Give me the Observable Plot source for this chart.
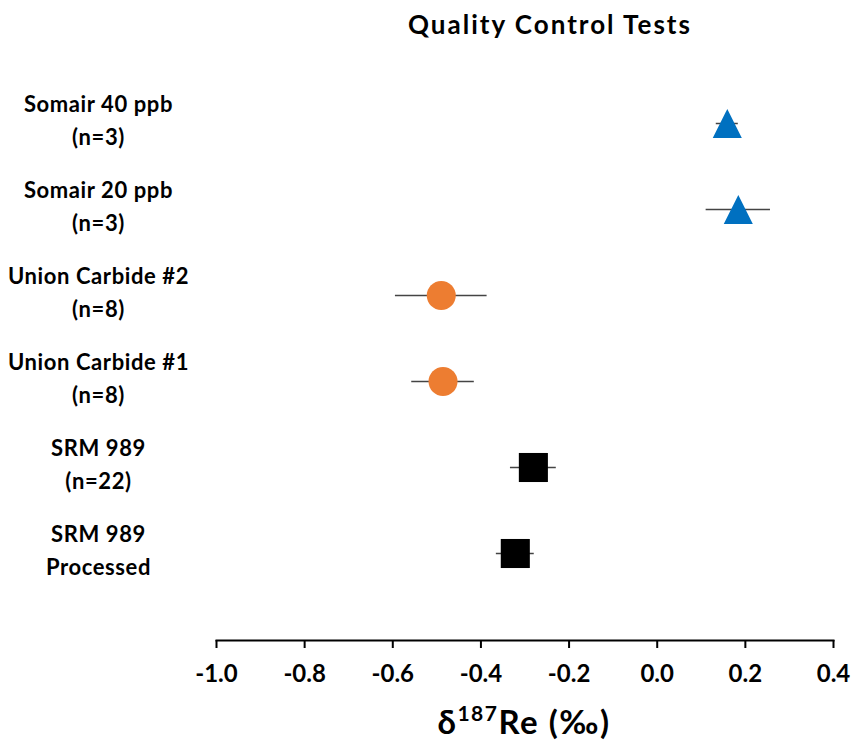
<!DOCTYPE html>
<html>
<head>
<meta charset="utf-8">
<script src="https://cdn.jsdelivr.net/npm/d3@7"></script>
<script src="https://cdn.jsdelivr.net/npm/@observablehq/plot@0.6"></script>
<style>
  html, body { margin: 0; padding: 0; background: #fff; }
</style>
</head>
<body>
<div id="chart"></div>
<script>
const titleText = "Quality Control Tests";
const labels = [
  "Somair 40 ppb\n(n=3)",
  "Somair 20 ppb\n(n=3)",
  "Union Carbide #2\n(n=8)",
  "Union Carbide #1\n(n=8)",
  "SRM 989\n(n=22)",
  "SRM 989\nProcessed"
];
const values = [0.159, 0.184, -0.490, -0.486, -0.281, -0.322];
const errors = [0.025, 0.073, 0.104, 0.071, 0.052, 0.043];
const groups = ["Somair", "Somair", "Union Carbide", "Union Carbide", "SRM 989", "SRM 989"];
const xTicks = [-1.0, -0.8, -0.6, -0.4, -0.2, 0.0, 0.2, 0.4];

const data = labels.map((label, i) => ({
  label, value: values[i], lo: values[i] - errors[i], hi: values[i] + errors[i], group: groups[i]
}));

const FONT = "Lato, 'Open Sans', sans-serif";

const triangleSym = {
  draw(ctx, size) {
    const h = Math.sqrt(size);
    ctx.moveTo(0, -h / 2);
    ctx.lineTo(h / 2, h / 2);
    ctx.lineTo(-h / 2, h / 2);
    ctx.closePath();
  }
};

const plot = Plot.plot({
  width: 856,
  height: 746,
  marginLeft: 216,
  marginRight: 23,
  marginTop: 60,
  marginBottom: 106,
  style: { fontFamily: FONT, background: "#fff", color: "#000" },
  x: { domain: [-1.0, 0.4] },
  y: { type: "point", domain: labels, range: [122, 553], padding: 0, axis: null },
  marks: [
    Plot.frame({ anchor: "bottom", stroke: "#000", strokeWidth: 2, strokeOpacity: 1 }),
    Plot.axisX({
      ticks: xTicks,
      tickFormat: d => d.toFixed(1),
      tickSize: 8,
      tickPadding: 16,
      strokeWidth: 2,
      fontSize: 24,
      fontWeight: "bold",
      fill: "#000",
      label: null
    }),
    Plot.text(data, {
      y: "label",
      text: "label",
      frameAnchor: "left",
      dx: -118,
      dy: -6,
      textAnchor: "middle",
      lineHeight: 1.5,
      fontSize: 22,
      fontWeight: "bold",
      fill: "#000"
    }),
    Plot.ruleY(data, { y: "label", x1: "lo", x2: "hi", stroke: "#444", strokeWidth: 1.5 }),
    Plot.dot(data.filter(d => d.group === "Somair"), {
      x: "value", y: "label", symbol: triangleSym, r: 16.4, fill: "#0070C0", stroke: "none"
    }),
    Plot.dot(data.filter(d => d.group === "Union Carbide"), {
      x: "value", y: "label", symbol: "circle", r: 14.5, fill: "#ED7D31", stroke: "none"
    }),
    Plot.dot(data.filter(d => d.group === "SRM 989"), {
      x: "value", y: "label", symbol: "square", r: 16.4, fill: "#000", stroke: "none"
    })
  ]
});

const svg = d3.select(plot);
svg.selectAll("g[aria-label='text'] text").style("letter-spacing", "0.6px");

svg.append("text")
  .attr("x", 550).attr("y", 34)
  .attr("text-anchor", "middle")
  .style("font-family", FONT)
  .style("font-size", "26px")
  .style("font-weight", "bold")
  .style("letter-spacing", "2px")
  .attr("fill", "#000")
  .text(titleText);

const xl = svg.append("text")
  .attr("x", 524).attr("y", 734)
  .attr("text-anchor", "middle")
  .style("font-family", FONT)
  .style("font-size", "33px")
  .style("font-weight", "bold")
  .style("letter-spacing", "1.5px")
  .attr("fill", "#000");
xl.append("tspan").text("δ");
xl.append("tspan").attr("dy", -13).style("font-size", "21px").text("187");
xl.append("tspan").attr("dy", 13).text("Re (‰)");

document.getElementById("chart").appendChild(plot);
</script>
</body>
</html>
